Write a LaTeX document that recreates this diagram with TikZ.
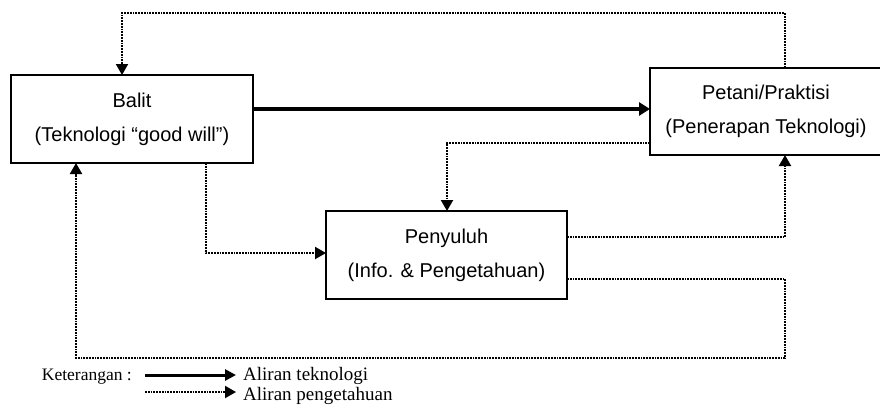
\documentclass[tikz,border=0pt]{standalone}
\usepackage{fontspec}
\setmainfont{Liberation Serif}
\newfontfamily\boxfont{Liberation Sans}
\usetikzlibrary{arrows.meta}
\begin{document}
\begin{tikzpicture}[x=1pt,y=-1pt,
  boxn/.style={draw,line width=1.3pt,inner sep=0pt,align=center,
    font=\boxfont\fontsize{20}{34}\selectfont},
  know/.style={line width=2pt,dash pattern=on 1.8pt off 1pt,-{Triangle[length=11pt,width=12pt]}},
  tech/.style={line width=4.5pt,-{Triangle[length=11pt,width=13pt]}},
  leg/.style={font=\fontsize{19}{22}\selectfont,inner sep=0pt}]
\useasboundingbox (0,0) rectangle (880,405);
% boxes
\node[boxn,minimum width=242pt,minimum height=88pt] (balit) at (132,119) {Balit\\(Teknologi “good will”)};
\node[boxn,minimum width=232pt,minimum height=87pt] (petani) at (766,111.5) {Petani/Praktisi\\(Penerapan Teknologi)};
\node[boxn,minimum width=241pt,minimum height=88pt] (peny) at (446.5,255) {Penyuluh\\(Info. \& Pengetahuan)};
% technology arrow
\coordinate (bR) at (253,109);
\coordinate (pL) at (650,109);
\draw[tech] (bR) -- (pL);
% top dotted loop Petani -> Balit
\coordinate (pT) at (785,68);
\coordinate (bT) at (122,75);
\draw[know] (pT) -- (785,13) -- (122,13) -- (bT);
% Petani -> Penyuluh
\coordinate (pL2) at (650,143);
\coordinate (yT) at (447,211);
\draw[know] (pL2) -- (447,143) -- (yT);
% Balit -> Penyuluh
\coordinate (bB) at (206,163);
\coordinate (yL) at (326,253);
\draw[know] (bB) -- (206,253) -- (yL);
% Penyuluh -> Petani
\coordinate (yR1) at (567,237);
\coordinate (pB) at (785,155);
\draw[know] (yR1) -- (785,237) -- (pB);
% Penyuluh -> Balit
\coordinate (yR2) at (567,279);
\coordinate (bB2) at (76,163);
\draw[know] (yR2) -- (785,279) -- (785,358) -- (76,358) -- (bB2);
% legend
\node[leg,anchor=base east,font=\fontsize{17.5}{20}\selectfont] (ket) at (132,380) {Keterangan :};
\coordinate (l1a) at (145,375);
\coordinate (l1b) at (236,375);
\draw[line width=3pt,-{Triangle[length=11pt,width=11pt]}] (l1a) -- (l1b);
\node[leg,anchor=base west] (lt) at (243,380) {Aliran teknologi};
\coordinate (l2a) at (145,392);
\coordinate (l2b) at (236,392);
\draw[know] (l2a) -- (l2b);
\node[leg,anchor=base west] (lp) at (243,400) {Aliran pengetahuan};
\end{tikzpicture}
\end{document}
